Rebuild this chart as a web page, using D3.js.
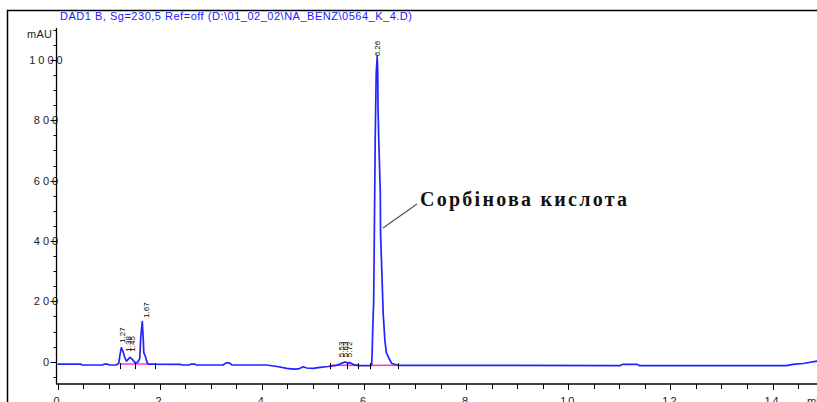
<!DOCTYPE html>
<html>
<head>
<meta charset="utf-8">
<script src="https://cdn.jsdelivr.net/npm/d3@7"></script>
<style>
  body { margin: 0; background: #fff; }
  svg { display: block; }
</style>
</head>
<body>
<div id="chrom"></div>
<script>
// chromatogram trace (min / mAU)
const times = [0.00, 0.45, 0.48, 0.88, 0.92, 0.98, 1.01, 1.15, 1.18, 1.20,
  1.22, 1.25, 1.28, 1.32, 1.35, 1.42, 1.48, 1.52, 1.57, 1.61,
  1.63, 1.66, 1.68, 1.69, 1.72, 1.74, 1.77, 2.40, 2.45, 2.58,
  2.62, 2.68, 2.72, 3.24, 3.30, 3.36, 3.42, 4.09, 4.30, 4.49,
  4.62, 4.72, 4.81, 4.88, 5.00, 5.14, 5.30, 5.46, 5.53, 5.58,
  5.63, 5.68, 5.72, 5.80, 5.90, 6.12, 6.15, 6.16, 6.17, 6.19,
  6.20, 6.22, 6.24, 6.26, 6.27, 6.275, 6.29, 6.32, 6.325, 6.35,
  6.376, 6.41, 6.44, 6.50, 6.54, 6.66, 11.02, 11.06, 11.20, 11.35,
  11.39, 14.27, 14.40, 14.60, 14.87];
const signal = [-8, -8, -11, -11, -8, -8, -11, -11, -8, -5,
  20, 46, 35, 12, 2, 14, 5, -4, -2, 10,
  80, 133, 70, 30, 17, 5, -8, -9, -11, -11,
  -8, -8, -11, -11, -4, -4, -11, -11, -16, -22,
  -25, -24, -17, -21, -22, -19, -16, -12, -8, -4,
  -1, -4, -3, -10, -13, -13, -12, 30, 95, 200,
  360, 735, 957, 1011, 960, 845, 735, 560, 426, 300,
  161, 70, 29, 8, -5, -12, -13, -9, -9, -9,
  -13, -13, -9, -6, 2];

// integration baselines [start, end] and the marks at their ends
const baseStart = [1.22, 5.33, 6.12];
const baseEnd = [1.91, 5.89, 6.66];
const baseLevel = [-8, -12, -12];
const markTimes = [1.22, 1.52, 1.91, 5.33, 5.66, 5.89, 6.12, 6.66];

// retention time labels
const peakLabels = ["1.27", "1.38", "1.45", "1.67", "5.53", "5.63", "5.72", "6.26"];
const peakTimes = [1.27, 1.38, 1.46, 1.73, 5.55, 5.63, 5.71, 6.26];
const peakTops = [62, 33, 33, 145, 15, 15, 15, 1012];

const yTicks = [0, 200, 400, 600, 800, 1000];
const xTicks = [0, 2, 4, 6, 8, 10, 12, 14];

const title = "DAD1 B, Sg=230,5 Ref=off (D:\\01_02_02\\NA_BENZ\\0564_K_4.D)";
const annotation = "Сорбінова кислота";

const W = 817, H = 402;
const svg = d3.select("#chrom").append("svg")
  .attr("width", W).attr("height", H);

// outer frame
svg.append("path")
  .attr("d", `M7.5,${H} V10.5 H${W}`)
  .attr("fill", "none").attr("stroke", "#000").attr("stroke-width", 1.5);

svg.append("text")
  .attr("x", 60).attr("y", 20)
  .attr("textLength", 352).attr("lengthAdjust", "spacing")
  .style("font-family", "Liberation Sans, Arial, sans-serif")
  .style("font-size", "11px")
  .style("fill", "#1a1aff")
  .text(title);

const x = d3.scaleLinear().domain([0, 14.87]).range([57.5, 817]);
const y = d3.scaleLinear().domain([-74, 1106]).range([384, 28]);

// y axis with minor ticks every 50
const yAxis = svg.append("g").attr("transform", "translate(56.5,0)");
yAxis.append("line").attr("y1", y(1106)).attr("y2", 384)
  .attr("stroke", "#000").attr("stroke-width", 1.3);
yAxis.selectAll(".minor").data(d3.range(-50, 1101, 50)).enter().append("line")
  .attr("x1", -3).attr("x2", 0)
  .attr("y1", d => Math.round(y(d)) + 0.5).attr("y2", d => Math.round(y(d)) + 0.5)
  .attr("stroke", "#000");
yAxis.selectAll(".major").data(yTicks).enter().append("line")
  .attr("x1", -6).attr("x2", 0)
  .attr("y1", d => Math.round(y(d)) + 0.5).attr("y2", d => Math.round(y(d)) + 0.5)
  .attr("stroke", "#000");
svg.selectAll(".ylab").data(yTicks).enter().append("text")
  .attr("x", 47.5).attr("y", d => y(d) + 4)
  .attr("text-anchor", "middle")
  .style("font-family", "Liberation Sans, Arial, sans-serif")
  .style("font-size", "11px").style("letter-spacing", "3px")
  .style("fill", "#222")
  .text(d => d);
svg.append("text")
  .attr("x", 27).attr("y", 38)
  .attr("textLength", 25).attr("lengthAdjust", "spacing")
  .style("font-family", "Liberation Sans, Arial, sans-serif")
  .style("font-size", "11px").style("fill", "#222")
  .text("mAU");

// x axis, minor ticks every 0.5 min
const xAxis = svg.append("g").attr("transform", "translate(0,384)");
xAxis.append("line").attr("x1", 56).attr("x2", W)
  .attr("stroke", "#000").attr("stroke-width", 1.3);
xAxis.selectAll(".minor").data(d3.range(0, 15, 0.5)).enter().append("line")
  .attr("x1", d => Math.round(x(d)) + 0.5).attr("x2", d => Math.round(x(d)) + 0.5)
  .attr("y1", 0).attr("y2", d => Number.isInteger(d / 2) ? 6 : 5)
  .attr("stroke", "#000");
svg.selectAll(".xlab").data(xTicks).enter().append("text")
  .attr("x", d => x(d)).attr("y", 404.5)
  .attr("text-anchor", "middle")
  .style("font-family", "Liberation Sans, Arial, sans-serif")
  .style("font-size", "11px").style("letter-spacing", "2px")
  .style("fill", "#222")
  .text(d => d);
svg.append("text")
  .attr("x", 807).attr("y", 404.5)
  .style("font-family", "Liberation Sans, Arial, sans-serif")
  .style("font-size", "11px").style("fill", "#222")
  .text("min");

// integration baselines
svg.selectAll(".base").data(baseStart).enter().append("line")
  .attr("x1", d => x(d)).attr("x2", (d, i) => x(baseEnd[i]))
  .attr("y1", (d, i) => y(baseLevel[i])).attr("y2", (d, i) => y(baseLevel[i]))
  .attr("stroke", "#ff33cc").attr("stroke-width", 1.5);

// trace
const pts = times.map((t, i) => [t, signal[i]]);
svg.append("path")
  .datum(pts)
  .attr("fill", "none")
  .attr("stroke", "#2323ff")
  .attr("stroke-width", 1.7)
  .attr("stroke-linejoin", "round")
  .attr("d", d3.line().x(d => x(d[0])).y(d => y(d[1])));

// peak start/end marks
svg.selectAll(".mark").data(markTimes).enter().append("line")
  .attr("x1", d => Math.round(x(d)) + 0.5).attr("x2", d => Math.round(x(d)) + 0.5)
  .attr("y1", y(-8) - 1).attr("y2", y(-8) + 5)
  .attr("stroke", "#000");

// retention time labels, rotated
svg.selectAll(".rt").data(peakLabels).enter().append("text")
  .attr("transform", (d, i) => `translate(${x(peakTimes[i]) + 3},${y(peakTops[i])}) rotate(-90)`)
  .style("font-family", "Liberation Sans, Arial, sans-serif")
  .style("font-size", "8px").style("fill", "#000")
  .text(d => d);

// annotation
svg.append("line")
  .attr("x1", 383).attr("y1", 228).attr("x2", 417).attr("y2", 204)
  .attr("stroke", "#555").attr("stroke-width", 1.2);
svg.append("text")
  .attr("x", 420).attr("y", 205.5)
  .attr("textLength", 207).attr("lengthAdjust", "spacing")
  .style("font-family", "Liberation Serif, Times New Roman, serif")
  .style("font-weight", "bold").style("font-size", "20px")
  .style("fill", "#111")
  .text(annotation);
</script>
</body>
</html>
